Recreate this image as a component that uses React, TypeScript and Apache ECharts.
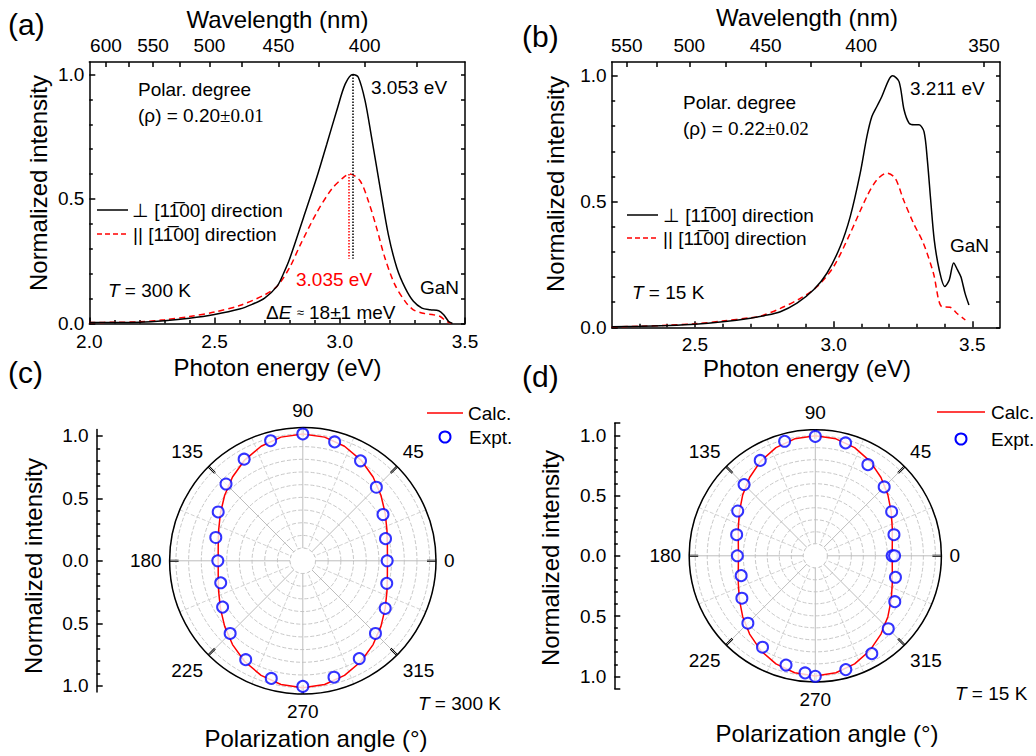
import React, { useEffect, useRef } from "react";
import * as echarts from "echarts";

const FONT = "'Liberation Sans', Arial, Helvetica, sans-serif";
const SERIF = "'Liberation Serif', 'Times New Roman', serif";
const HC = 1239.84; // eV*nm, converts wavelength tick labels to energy positions

// ---------- Panel (a): T = 300 K ----------
const aPerpE = [2.0, 2.1, 2.2, 2.3, 2.4, 2.5, 2.6, 2.65, 2.7, 2.75, 2.775, 2.8, 2.855, 2.908, 2.948, 2.988, 3.022, 3.053, 3.074, 3.101, 3.127, 3.161, 3.194, 3.228, 3.261, 3.294, 3.328, 3.361, 3.395, 3.415, 3.435, 3.45];
const aPerpI = [0.004, 0.004, 0.005, 0.011, 0.021, 0.036, 0.058, 0.077, 0.102, 0.15, 0.2, 0.26, 0.425, 0.586, 0.72, 0.855, 0.962, 1.0, 0.989, 0.895, 0.747, 0.546, 0.357, 0.223, 0.143, 0.089, 0.062, 0.055, 0.051, 0.035, 0.008, 0.0];
const aParE = [2.0, 2.1, 2.2, 2.3, 2.4, 2.5, 2.6, 2.7, 2.75, 2.8, 2.842, 2.908, 2.968, 3.014, 3.04, 3.081, 3.114, 3.147, 3.18, 3.22, 3.261, 3.294, 3.334, 3.374, 3.401, 3.427, 3.447];
const aParI = [0.004, 0.005, 0.007, 0.015, 0.028, 0.046, 0.072, 0.115, 0.15, 0.225, 0.315, 0.445, 0.54, 0.586, 0.6, 0.573, 0.492, 0.384, 0.264, 0.156, 0.089, 0.055, 0.041, 0.035, 0.028, 0.008, 0.0];
const aPeaks = [3.053, 3.035];

// ---------- Panel (b): T = 15 K ----------
const bPerpE = [2.2, 2.3, 2.4, 2.5, 2.6, 2.7, 2.75, 2.808, 2.868, 2.928, 2.976, 3.024, 3.06, 3.096, 3.12, 3.138, 3.156, 3.174, 3.199, 3.213, 3.236, 3.254, 3.272, 3.29, 3.308, 3.326, 3.338, 3.35, 3.363, 3.381, 3.401, 3.417, 3.433, 3.447, 3.459, 3.474, 3.488];
const bPerpI = [0.002, 0.004, 0.007, 0.012, 0.022, 0.036, 0.046, 0.062, 0.096, 0.149, 0.215, 0.321, 0.44, 0.613, 0.758, 0.838, 0.878, 0.918, 0.984, 1.0, 0.977, 0.865, 0.812, 0.805, 0.805, 0.778, 0.666, 0.507, 0.347, 0.228, 0.162, 0.188, 0.256, 0.228, 0.201, 0.135, 0.089];
const bParE = [2.2, 2.3, 2.4, 2.5, 2.6, 2.7, 2.736, 2.808, 2.88, 2.94, 3.0, 3.06, 3.12, 3.156, 3.192, 3.222, 3.252, 3.288, 3.324, 3.36, 3.39, 3.42, 3.444, 3.475];
const bParI = [0.002, 0.004, 0.008, 0.014, 0.025, 0.038, 0.044, 0.075, 0.115, 0.161, 0.241, 0.374, 0.52, 0.586, 0.613, 0.593, 0.507, 0.414, 0.334, 0.215, 0.082, 0.08, 0.056, 0.029];

// ---------- Axis ticks ----------
const aEnergyMajor = [2.0, 2.5, 3.0, 3.5];
const aEnergyMinor = [2.1, 2.2, 2.3, 2.4, 2.6, 2.7, 2.8, 2.9, 3.1, 3.2, 3.3, 3.4];
const bEnergyMajor = [2.5, 3.0, 3.5];
const bEnergyMinor = [2.3, 2.4, 2.6, 2.7, 2.8, 2.9, 3.1, 3.2, 3.3, 3.4];
const aWaveMajor = [600, 550, 500, 450, 400];
const aWaveMinor = [575, 525, 475, 425, 375];
const bWaveMajor = [550, 500, 450, 400, 350];
const bWaveMinor = [525, 475, 425, 375];
const intensityMajor = [0, 0.5, 1.0];
const intensityMinor = [0.1, 0.2, 0.3, 0.4, 0.6, 0.7, 0.8, 0.9];
const intensityAll = [0, 0.1, 0.2, 0.3, 0.4, 0.5, 0.6, 0.7, 0.8, 0.9, 1.0];
const polarLeftMajor = [-1, -0.5, 0, 0.5, 1];
const polarLeftMinor = [-0.9, -0.8, -0.7, -0.6, -0.4, -0.3, -0.2, -0.1, 0.1, 0.2, 0.3, 0.4, 0.6, 0.7, 0.8, 0.9];

// ---------- Panel (c): polar, 300 K ----------
const calcAngles = [0, 10, 20, 30, 40, 50, 60, 70, 80, 90, 100, 110, 120, 130, 140, 150, 160, 170, 180, 190, 200, 210, 220, 230, 240, 250, 260, 270, 280, 290, 300, 310, 320, 330, 340, 350, 360];
const cCalc = [0.667, 0.677, 0.706, 0.75, 0.804, 0.862, 0.917, 0.961, 0.99, 1.0, 0.99, 0.961, 0.917, 0.862, 0.804, 0.75, 0.706, 0.677, 0.667, 0.677, 0.706, 0.75, 0.804, 0.862, 0.917, 0.961, 0.99, 1.0, 0.99, 0.961, 0.917, 0.862, 0.804, 0.75, 0.706, 0.677, 0.667];
const cExptAngles = [0, 15, 30, 45, 60, 75, 90, 105, 120, 135, 150, 165, 180, 195, 210, 225, 240, 255, 270, 285, 300, 315, 330, 345];
const cExpt = [0.665, 0.675, 0.73, 0.82, 0.91, 0.97, 1.0, 0.98, 0.925, 0.856, 0.77, 0.71, 0.67, 0.67, 0.73, 0.81, 0.9, 0.96, 0.99, 0.95, 0.89, 0.81, 0.75, 0.685];

// ---------- Panel (d): polar, 15 K ----------
const dCalc = [0.64, 0.651, 0.682, 0.73, 0.789, 0.851, 0.91, 0.958, 0.989, 1.0, 0.989, 0.958, 0.91, 0.851, 0.789, 0.73, 0.682, 0.651, 0.64, 0.651, 0.682, 0.73, 0.789, 0.851, 0.91, 0.958, 0.989, 1.0, 0.989, 0.958, 0.91, 0.851, 0.789, 0.73, 0.682, 0.651, 0.64];
const dExptAngles = [0, 15, 30, 45, 60, 75, 90, 105, 120, 135, 150, 165, 180, 195, 210, 225, 240, 255, 265, 270, 285, 300, 315, 330, 345, 360];
const dExpt = [0.64, 0.678, 0.734, 0.811, 0.876, 0.973, 0.994, 0.987, 0.917, 0.839, 0.746, 0.678, 0.649, 0.639, 0.706, 0.794, 0.879, 0.942, 0.979, 1.003, 0.981, 0.941, 0.859, 0.764, 0.691, 0.66];

const pairs = (xs: number[], ys: number[]) => xs.map((x, i) => [x, ys[i]]);
const polarPairs = (angles: number[], rs: number[]) => angles.map((a, i) => [rs[i], a]);
const toEnergy = (nm: number) => HC / nm;

const BLACK = "#000";
const RED = "#ff0000";
const BLUE = "#0000ff";
const lineW = 1.5;

// polar layout (pixels)
const C_CENTER = [302.8, 560.8];
const C_R = 133.2;
const D_CENTER = [815.3, 555.8];
const D_R = 126.1;
const R_MAX = 1.05;

function cartAxes(grid: number, xMin: number, xMax: number, yMax: number,
  xMajor: number[], xMinor: number[], wMajor: number[], wMinor: number[]) {
  const axisLine = { show: true, onZero: false, lineStyle: { color: BLACK, width: lineW } };
  const label = { color: BLACK, fontSize: 19, fontFamily: FONT };
  const x = [
    {
      type: "value", gridIndex: grid, position: "bottom", min: xMin, max: xMax,
      axisLine, splitLine: { show: false },
      axisTick: { show: true, inside: true, length: 6, customValues: xMajor, lineStyle: { color: BLACK, width: lineW } },
      axisLabel: { ...label, margin: 8, customValues: xMajor, formatter: (v: number) => v.toFixed(1) },
    },
    {
      type: "value", gridIndex: grid, position: "bottom", min: xMin, max: xMax,
      axisLine: { show: false, onZero: false }, splitLine: { show: false },
      axisTick: { show: true, inside: true, length: 3.5, customValues: xMinor, lineStyle: { color: BLACK, width: lineW } },
      axisLabel: { show: false },
    },
    {
      type: "value", gridIndex: grid, position: "top", min: xMin, max: xMax,
      axisLine, splitLine: { show: false },
      axisTick: { show: true, inside: true, length: 5, customValues: wMajor.concat(wMinor).map(toEnergy), lineStyle: { color: BLACK, width: lineW } },
      axisLabel: { ...label, margin: 7, customValues: wMajor.map(toEnergy), formatter: (v: number) => String(Math.round(HC / v)) },
    },
  ];
  const y = [
    {
      type: "value", gridIndex: grid, position: "left", min: 0, max: yMax,
      axisLine, splitLine: { show: false },
      axisTick: { show: true, inside: true, length: 6, customValues: intensityMajor, lineStyle: { color: BLACK, width: lineW } },
      axisLabel: { ...label, margin: 5, customValues: intensityMajor, formatter: (v: number) => v.toFixed(1) },
    },
    {
      type: "value", gridIndex: grid, position: "left", min: 0, max: yMax,
      axisLine: { show: false, onZero: false }, splitLine: { show: false },
      axisTick: { show: true, inside: true, length: 3.5, customValues: intensityMinor, lineStyle: { color: BLACK, width: lineW } },
      axisLabel: { show: false },
    },
    {
      type: "value", gridIndex: grid, position: "right", min: 0, max: yMax,
      axisLine, splitLine: { show: false },
      axisTick: { show: true, inside: true, length: 4, customValues: intensityAll, lineStyle: { color: BLACK, width: lineW } },
      axisLabel: { show: false },
    },
  ];
  return { x, y };
}

function polarLeftAxes(grid: number, lim: number, caps: boolean) {
  const majorTicks = caps ? polarLeftMajor.concat([-lim, lim]) : polarLeftMajor;
  return [
    {
      type: "value", gridIndex: grid, position: "left", min: -lim, max: lim,
      axisLine: { show: true, onZero: false, lineStyle: { color: BLACK, width: lineW } },
      splitLine: { show: false },
      axisTick: { show: true, inside: true, length: 6, customValues: majorTicks, lineStyle: { color: BLACK, width: lineW } },
      axisLabel: { color: BLACK, fontSize: 19, fontFamily: FONT, margin: 8, customValues: polarLeftMajor, formatter: (v: number) => Math.abs(v).toFixed(1) },
    },
    {
      type: "value", gridIndex: grid, position: "left", min: -lim, max: lim,
      axisLine: { show: false, onZero: false }, splitLine: { show: false },
      axisTick: { show: true, inside: true, length: 3.5, customValues: polarLeftMinor, lineStyle: { color: BLACK, width: lineW } },
      axisLabel: { show: false },
    },
  ];
}

function angleAxis(polarIndex: number) {
  return {
    polarIndex, type: "value", min: 0, max: 360, interval: 45, startAngle: 0, clockwise: false,
    axisLine: { show: true, lineStyle: { color: BLACK, width: lineW } },
    axisTick: { show: true, inside: true, length: 9, lineStyle: { color: BLACK, width: 2.2 } },
    axisLabel: { color: BLACK, fontSize: 19, fontFamily: FONT, margin: 8 },
    splitLine: { show: true, lineStyle: { color: "#bdbdbd", width: 1 } },
    minorTick: { show: false, splitNumber: 2 },
    minorSplitLine: { show: true, lineStyle: { color: "#d2d2d2", width: 1, type: "dashed" } },
  };
}

function radiusAxis(polarIndex: number) {
  return {
    polarIndex, type: "value", min: 0, max: R_MAX, interval: 0.1,
    axisLine: { show: false }, axisTick: { show: false }, axisLabel: { show: false },
    splitLine: { show: true, lineStyle: { color: "#c8c8c8", width: 1, type: "dashed" } },
  };
}

const rich = {
  i: { fontStyle: "italic", fontSize: 19, fontFamily: FONT, fill: BLACK },
  s: { fontSize: 19, fontFamily: SERIF, fill: BLACK },
  a: { fontSize: 13, fontFamily: FONT, fill: BLACK },
};

function txt(x: number, y: number, text: string, extra: any = {}) {
  return {
    type: "text", x, y, silent: true, z: 10,
    style: { text, fill: BLACK, fontSize: 19, fontFamily: FONT, align: "left", verticalAlign: "middle", rich, ...extra },
  };
}
function vtxt(x: number, y: number, text: string) {
  return {
    type: "text", x, y, rotation: Math.PI / 2, silent: true, z: 10,
    style: { text, fill: BLACK, fontSize: 24, fontFamily: FONT, align: "center", verticalAlign: "middle" },
  };
}
function seg(x1: number, y1: number, x2: number, y2: number, color: string, dash?: number[]) {
  return {
    type: "line", silent: true, z: 10, shape: { x1, y1, x2, y2 },
    style: { stroke: color, lineWidth: lineW, lineDash: dash || null },
  };
}
// white centre hole of the polar frame (the grid starts at 0.1)
function hole(center: number[], R: number) {
  return {
    type: "circle", silent: true, z: 2, shape: { cx: center[0], cy: center[1], r: (R / R_MAX) * 0.1 },
    style: { fill: "#fff", stroke: "#c8c8c8", lineWidth: 1, lineDash: [3, 3] },
  };
}

export default function App() {
  const ref = useRef<HTMLDivElement>(null);
  useEffect(() => {
    document.body.style.margin = "0";
    const chart = echarts.init(ref.current!, null, { renderer: "svg" });
    const A = cartAxes(0, 2.0, 3.5, 1.05, aEnergyMajor, aEnergyMinor, aWaveMajor, aWaveMinor);
    const B = cartAxes(1, 2.2, 3.6, 1.055, bEnergyMajor, bEnergyMinor, bWaveMajor, bWaveMinor);
    const hiddenX = (g: number) => ({ type: "value", gridIndex: g, show: false, min: 0, max: 1 });

    const specLine = (name: string, data: number[][], xi: number, yi: number, color: string, dashed: boolean, markLine?: any) => ({
      type: "line", name, data, xAxisIndex: xi, yAxisIndex: yi,
      showSymbol: false, symbol: "none", smooth: 0.3,
      lineStyle: { color, width: lineW, type: dashed ? [6, 4] : "solid" },
      z: dashed ? 3 : 4, markLine,
    });
    const dotted = (e: number, top: number, color: string) => ({
      silent: true, symbol: ["none", "none"], label: { show: false },
      lineStyle: { color, width: 1.5, type: "dotted" },
      data: [[{ coord: [e, top] }, { coord: [e, 0.26] }]],
    });

    const option: any = {
      animation: false,
      grid: [
        { left: 89.3, top: 62, width: 375.7, height: 261.5, outerBoundsMode: "none" },
        { left: 611.7, top: 62, width: 388.3, height: 265.3, outerBoundsMode: "none" },
        { left: 96.7, top: 429.5, width: 20, height: 262.5, outerBoundsMode: "none" },
        { left: 614.3, top: 423.2, width: 20, height: 265.2, outerBoundsMode: "none" },
      ],
      xAxis: [...A.x, ...B.x, hiddenX(2), hiddenX(3)],
      yAxis: [...A.y, ...B.y, ...polarLeftAxes(2, 1.05, false), ...polarLeftAxes(3, 1.1, true)],
      polar: [
        { center: C_CENTER, radius: [0, C_R] },
        { center: D_CENTER, radius: [0, D_R] },
      ],
      angleAxis: [angleAxis(0), angleAxis(1)],
      radiusAxis: [radiusAxis(0), radiusAxis(1)],
      series: [
        specLine("a-perp", pairs(aPerpE, aPerpI), 0, 0, BLACK, false, dotted(aPeaks[0], 1.0, BLACK)),
        specLine("a-par", pairs(aParE, aParI), 0, 0, RED, true, dotted(aPeaks[1], 0.6, RED)),
        specLine("b-perp", pairs(bPerpE, bPerpI), 3, 3, BLACK, false),
        specLine("b-par", pairs(bParE, bParI), 3, 3, RED, true),
        {
          type: "line", coordinateSystem: "polar", polarIndex: 0, data: polarPairs(calcAngles, cCalc),
          showSymbol: false, symbol: "none", lineStyle: { color: RED, width: lineW }, z: 3,
        },
        {
          type: "scatter", coordinateSystem: "polar", polarIndex: 0, data: polarPairs(cExptAngles, cExpt),
          symbol: "circle", symbolSize: 11, itemStyle: { color: "#fff", borderColor: BLUE, borderWidth: 2 }, z: 4,
        },
        {
          type: "line", coordinateSystem: "polar", polarIndex: 1, data: polarPairs(calcAngles, dCalc),
          showSymbol: false, symbol: "none", lineStyle: { color: RED, width: lineW }, z: 3,
        },
        {
          type: "scatter", coordinateSystem: "polar", polarIndex: 1, data: polarPairs(dExptAngles, dExpt),
          symbol: "circle", symbolSize: 11, itemStyle: { color: "#fff", borderColor: BLUE, borderWidth: 2 }, z: 4,
        },
      ],
      graphic: [
        hole(C_CENTER, C_R),
        hole(D_CENTER, D_R),
        // panel labels
        txt(8, 24, "(a)", { fontSize: 30 }),
        txt(522, 36, "(b)", { fontSize: 30 }),
        txt(8, 372, "(c)", { fontSize: 30 }),
        txt(522, 376, "(d)", { fontSize: 30 }),
        // axis titles
        txt(277.5, 19, "Wavelength (nm)", { fontSize: 24, align: "center" }),
        txt(807, 17, "Wavelength (nm)", { fontSize: 24, align: "center" }),
        txt(277.5, 367, "Photon energy (eV)", { fontSize: 24, align: "center" }),
        txt(807, 368, "Photon energy (eV)", { fontSize: 24, align: "center" }),
        vtxt(38, 183, "Normalized intensity"),
        vtxt(555, 184, "Normalized intensity"),
        vtxt(33, 566, "Normalized intensity"),
        vtxt(550, 558, "Normalized intensity"),
        txt(316, 738, "Polarization angle (°)", { fontSize: 24, align: "center" }),
        txt(827, 733, "Polarization angle (°)", { fontSize: 24, align: "center" }),
        // panel (a) annotations
        txt(138, 89, "Polar. degree"),
        txt(138, 115, "(ρ) = 0.20{s|±0.01}"),
        txt(371, 87, "3.053 eV"),
        seg(97, 210, 128, 210, BLACK),
        txt(132, 210, "⊥ [11\u030500] direction"),
        seg(97, 234, 128, 234, RED, [5, 3]),
        txt(133, 234, "|| [11\u030500] direction"),
        txt(108, 290, "{i|T} = 300 K"),
        txt(296, 279, "3.035 eV", { fill: RED }),
        txt(420, 287, "GaN"),
        txt(266, 312, "Δ{i|E} {a|≈} 18±1 meV"),
        // panel (b) annotations
        txt(910, 88, "3.211 eV"),
        txt(683, 102, "Polar. degree"),
        txt(683, 128, "(ρ) = 0.22{s|±0.02}"),
        seg(627, 215, 658, 215, BLACK),
        txt(663, 215, "⊥ [11\u030500] direction"),
        seg(627, 238, 658, 238, RED, [5, 3]),
        txt(663, 238, "|| [11\u030500] direction"),
        txt(950, 245, "GaN"),
        txt(632, 292, "{i|T} = 15 K"),
        // panel (c) legend
        seg(427, 413, 463, 413, RED),
        txt(468, 413, "Calc."),
        { type: "circle", silent: true, z: 10, shape: { cx: 445, cy: 437, r: 5.5 }, style: { fill: "#fff", stroke: BLUE, lineWidth: 2 } },
        txt(469, 437, "Expt."),
        txt(418, 703, "{i|T} = 300 K"),
        // panel (d) legend
        seg(937, 412, 985, 412, RED),
        txt(991, 412, "Calc."),
        { type: "circle", silent: true, z: 10, shape: { cx: 961, cy: 439, r: 5.5 }, style: { fill: "#fff", stroke: BLUE, lineWidth: 2 } },
        txt(991, 439, "Expt."),
        txt(955, 693, "{i|T} = 15 K"),
      ],
    };
    chart.setOption(option);
    return () => chart.dispose();
  }, []);
  return <div ref={ref} style={{ width: 1036, height: 756 }} />;
}
